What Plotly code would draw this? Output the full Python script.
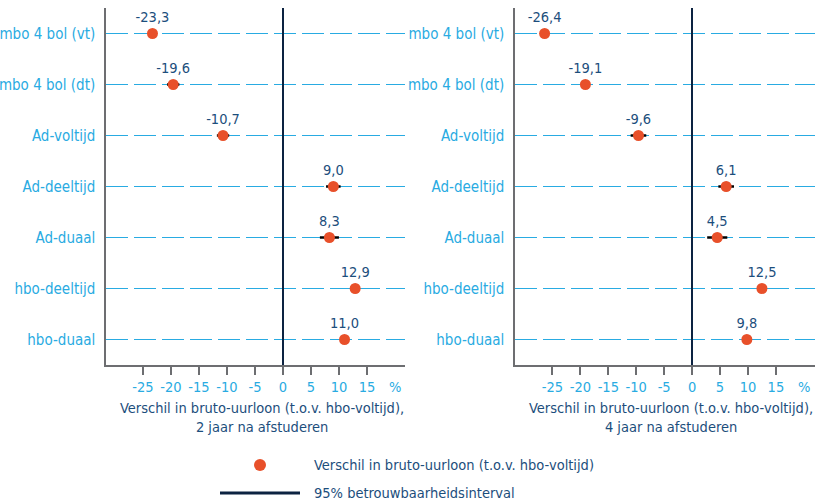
import plotly.graph_objects as go
from plotly.subplots import make_subplots

categories = ["mbo 4 bol (vt)", "mbo 4 bol (dt)", "Ad-voltijd", "Ad-deeltijd",
              "Ad-duaal", "hbo-deeltijd", "hbo-duaal"]
values_2j = [-23.3, -19.6, -10.7, 9.0, 8.3, 12.9, 11.0]
ci_2j = [0.5, 1.1, 1.1, 1.3, 1.7, 0.5, 0.5]
values_4j = [-26.4, -19.1, -9.6, 6.1, 4.5, 12.5, 9.8]
ci_4j = [0.5, 0.5, 1.4, 1.4, 1.8, 0.5, 0.5]
tick_vals = [-25, -20, -15, -10, -5, 0, 5, 10, 15]
tick_text = ["-25", "-20", "-15", "-10", "-5", "0", "5", "10", "15"]
titles = ["Verschil in bruto-uurloon (t.o.v. hbo-voltijd),<br>2 jaar na afstuderen",
          "Verschil in bruto-uurloon (t.o.v. hbo-voltijd),<br>4 jaar na afstuderen"]
legend_labels = ["Verschil in bruto-uurloon (t.o.v. hbo-voltijd)",
                 "95% betrouwbaarheidsinterval"]

FONT = "DejaVu Sans Condensed, Liberation Sans Narrow, sans-serif"
ORANGE = "#E8502A"
LBLUE = "#29ABE2"
NAVY_TXT = "#1C4E7C"
NAVY = "#0C2341"
GRAY = "#6D6E71"

W, H = 817, 501
TOP, BOT = 8, 365
plot_h = BOT - TOP

fig = make_subplots(rows=1, cols=2)

def fmt(v):
    return f"{v:.1f}".replace(".", ",")

for col, (vals, ci) in enumerate([(values_2j, ci_2j), (values_4j, ci_4j)], start=1):
    fig.add_trace(go.Scatter(
        x=vals, y=categories, mode="markers+text",
        text=[fmt(v) for v in vals], textposition="top center",
        textfont=dict(family=FONT, size=14.5, color=NAVY_TXT),
        marker=dict(size=11, color=ORANGE),
        error_x=dict(type="data", array=ci, color="black", thickness=2.5, width=0),
        cliponaxis=False, showlegend=False, hoverinfo="skip"), row=1, col=col)

dom_l = [106 / W, 405 / W]
dom_r = [515 / W, 815 / W]
rng_l = [-31.6, 21.8]
rng_r = [-31.7, 22.0]

for i, (dom, rng) in enumerate([(dom_l, rng_l), (dom_r, rng_r)], start=1):
    xa = "xaxis" if i == 1 else "xaxis2"
    ya = "yaxis" if i == 1 else "yaxis2"
    fig.layout[xa].update(
        domain=dom, range=rng, tickvals=tick_vals, ticktext=tick_text,
        automargin=False,
        showgrid=False, zeroline=True, zerolinecolor=NAVY, zerolinewidth=2,
        showline=True, linecolor=GRAY, linewidth=1.5,
        ticks="outside", ticklen=8, tickcolor=GRAY, tickwidth=1.5,
        tickfont=dict(family=FONT, size=14.5, color=LBLUE), fixedrange=True)
    fig.layout[ya].update(
        type="category", categoryorder="array", categoryarray=categories,
        automargin=False, fixedrange=True,
        range=[6.5, -0.5], showgrid=True, gridcolor=LBLUE, gridwidth=1.3,
        griddash="22px,6px", showline=True, linecolor=GRAY, linewidth=1.5,
        ticks="", ticklabelstandoff=6,
        tickfont=dict(family=FONT, size=15, color=LBLUE))

annotations = []
for i, (dom, rng) in enumerate([(dom_l, rng_l), (dom_r, rng_r)]):
    xref = "x" if i == 0 else "x2"
    annotations.append(dict(x=20, y=-(387 - BOT) / plot_h, xref=xref, yref="paper",
                            yanchor="middle", text="%", showarrow=False,
                            font=dict(family=FONT, size=14.5, color=LBLUE)))
    annotations.append(dict(x=(dom[0] + dom[1]) / 2 + 6 / W, y=-(398 - BOT) / plot_h,
                            xref="paper", yref="paper", text=titles[i], showarrow=False,
                            xanchor="center", yanchor="top", align="center",
                            font=dict(family=FONT, size=14.5, color=NAVY_TXT)))

# legend (manual)
annotations.append(dict(x=312 / W, y=-(465 - BOT) / plot_h, xref="paper", yref="paper",
                        xanchor="left", yanchor="middle", text=legend_labels[0],
                        showarrow=False, font=dict(family=FONT, size=14.5, color=NAVY_TXT)))
annotations.append(dict(x=312 / W, y=-(493 - BOT) / plot_h, xref="paper", yref="paper",
                        xanchor="left", yanchor="middle", text=legend_labels[1],
                        showarrow=False, font=dict(family=FONT, size=14.5, color=NAVY_TXT)))

shapes = [
    dict(type="circle", xref="paper", yref="paper",
         x0=(260 - 6) / W, x1=(260 + 6) / W,
         y0=-(465 + 6 - BOT) / plot_h, y1=-(465 - 6 - BOT) / plot_h,
         fillcolor=ORANGE, line=dict(width=0)),
    dict(type="line", xref="paper", yref="paper",
         x0=220 / W, x1=300 / W, y0=-(493 - BOT) / plot_h, y1=-(493 - BOT) / plot_h,
         line=dict(color=NAVY, width=3)),
]

fig.update_layout(
    width=W, height=H, margin=dict(l=0, r=0, t=TOP, b=H - BOT, pad=0),
    paper_bgcolor="white", plot_bgcolor="white",
    annotations=annotations, shapes=shapes,
    font=dict(family=FONT), showlegend=False)

fig.write_html("out.html", config={"displayModeBar": False},
               post_script="document.body.style.margin='0';document.body.style.overflow='hidden';")
